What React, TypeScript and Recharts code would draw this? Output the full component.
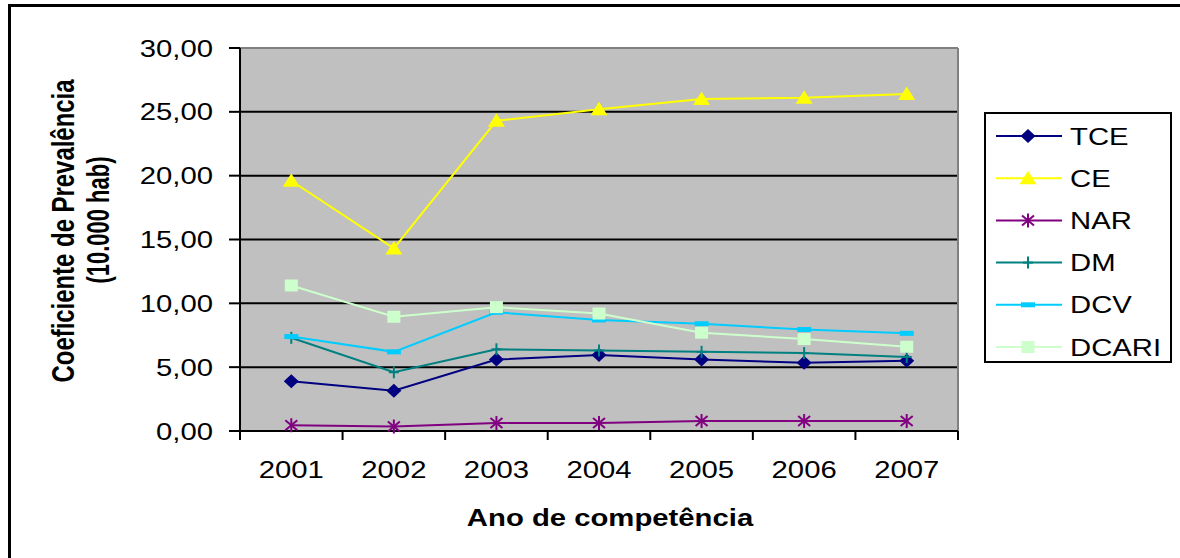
import React from "react";
import { LineChart, Line, XAxis, YAxis, CartesianGrid, ReferenceLine, Legend } from "recharts";

// values (coeficiente por 10.000 hab)
const years = [2001, 2002, 2003, 2004, 2005, 2006, 2007];
const yTicks = [0, 5, 10, 15, 20, 25, 30];
const tce = [3.9, 3.15, 5.6, 5.95, 5.6, 5.35, 5.5];
const ce = [19.6, 14.3, 24.3, 25.2, 26.0, 26.1, 26.4];
const nar = [0.45, 0.35, 0.62, 0.62, 0.78, 0.78, 0.78];
const dm = [7.3, 4.6, 6.4, 6.3, 6.2, 6.1, 5.8];
const dcv = [7.4, 6.2, 9.3, 8.7, 8.4, 7.95, 7.65];
const dcari = [11.4, 8.95, 9.7, 9.2, 7.7, 7.2, 6.6];

const FONT = '"Liberation Sans", Arial, sans-serif';
const W = 1180;
const H = 558;
const PLOT = { left: 240, top: 48, right: 958, bottom: 431 };
const BAND = (PLOT.right - PLOT.left) / years.length;
// the source picture is stretched sideways, text included
const SX = 1.22;

type Shape = "diamond" | "triangle" | "star" | "plus" | "dash" | "square";

const SERIES: { key: string; name: string; color: string; shape: Shape; values: number[] }[] = [
  { key: "tce", name: "TCE", color: "#000080", shape: "diamond", values: tce },
  { key: "ce", name: "CE", color: "#FFFF00", shape: "triangle", values: ce },
  { key: "nar", name: "NAR", color: "#800080", shape: "star", values: nar },
  { key: "dm", name: "DM", color: "#008080", shape: "plus", values: dm },
  { key: "dcv", name: "DCV", color: "#00CCFF", shape: "dash", values: dcv },
  { key: "dcari", name: "DCARI", color: "#CCFFCC", shape: "square", values: dcari },
];

const data = years.map((year, i) => {
  const row: Record<string, number> = { year };
  SERIES.forEach((s) => (row[s.key] = s.values[i]));
  return row;
});

function fmt(v: number) {
  return v.toFixed(2).replace(".", ",");
}

function Marker({ shape, cx, cy, color }: { shape: Shape; cx: number; cy: number; color: string }) {
  switch (shape) {
    case "diamond":
      return <polygon points={`${cx},${cy - 7} ${cx + 7.5},${cy} ${cx},${cy + 7} ${cx - 7.5},${cy}`} fill={color} />;
    case "triangle":
      return <polygon points={`${cx},${cy - 7.5} ${cx + 8.5},${cy + 6} ${cx - 8.5},${cy + 6}`} fill={color} />;
    case "star":
      return (
        <g stroke={color} strokeWidth={2}>
          <line x1={cx - 6} y1={cy - 5} x2={cx + 6} y2={cy + 5} />
          <line x1={cx - 6} y1={cy + 5} x2={cx + 6} y2={cy - 5} />
          <line x1={cx} y1={cy - 7} x2={cx} y2={cy + 7} />
        </g>
      );
    case "plus":
      return (
        <g stroke={color} strokeWidth={2}>
          <line x1={cx - 5} y1={cy} x2={cx + 5} y2={cy} />
          <line x1={cx} y1={cy - 6} x2={cx} y2={cy + 6} />
        </g>
      );
    case "dash":
      return <rect x={cx - 7} y={cy - 2.5} width={14} height={5} fill={color} />;
    default:
      return <rect x={cx - 6.5} y={cy - 6} width={13} height={12} fill={color} />;
  }
}

function makeDot(s: (typeof SERIES)[number]) {
  return (p: any) => (
    <g key={`${s.key}-${p.index}`}>
      <Marker shape={s.shape} cx={p.cx} cy={p.cy} color={s.color} />
    </g>
  );
}

function XTick({ x, y, payload }: any) {
  const last = payload.value === years[years.length - 1];
  return (
    <g>
      <line x1={x - BAND / 2} y1={y} x2={x - BAND / 2} y2={y + 9} stroke="#000" strokeWidth={2} />
      {last && <line x1={x + BAND / 2} y1={y} x2={x + BAND / 2} y2={y + 9} stroke="#000" strokeWidth={2} />}
      <text
        transform={`translate(${x},${y + 47}) scale(${SX},1)`}
        textAnchor="middle"
        fontSize={24}
        fontFamily={FONT}
        fill="#000"
      >
        {payload.value}
      </text>
    </g>
  );
}

function YTick({ x, y, payload }: any) {
  return (
    <text transform={`translate(${x},${y + 8.5}) scale(${SX},1)`} textAnchor="end" fontSize={24} fontFamily={FONT} fill="#000">
      {fmt(payload.value)}
    </text>
  );
}

// recharts sorts the payload by name, the reference keeps series order
function LegendBox() {
  return (
    <svg width={188} height={251} style={{ display: "block" }}>
      <rect x={1} y={1} width={186} height={249} fill="#fff" stroke="#000" strokeWidth={2} />
      {SERIES.map((s, i) => {
        const cy = 24 + i * 42.2;
        return (
          <g key={s.key}>
            <line x1={12} y1={cy} x2={78} y2={cy} stroke={s.color} strokeWidth={2} />
            <Marker shape={s.shape} cx={44} cy={cy} color={s.color} />
            <text
              transform={`translate(86,${cy + 8.5}) scale(${SX},1)`}
              fontSize={24}
              fontFamily={FONT}
              fill="#000"
            >
              {s.name}
            </text>
          </g>
        );
      })}
    </svg>
  );
}

export default function App() {
  return (
    <div style={{ position: "absolute", left: 0, top: 0, width: W, height: H, background: "#fff", overflow: "hidden" }}>
      <div
        style={{
          position: "absolute",
          left: 8,
          top: 4,
          width: W,
          height: H,
          borderTop: "3px solid #000",
          borderLeft: "3px solid #000",
        }}
      />
      <LineChart
        width={W}
        height={H}
        data={data}
        margin={{ top: PLOT.top, right: W - PLOT.right, bottom: 0, left: 0 }}
        style={{ position: "absolute", left: 0, top: 0 }}
      >
        <CartesianGrid
          fill="#C0C0C0"
          vertical={false}
          stroke="#000"
          strokeWidth={2}
          horizontalValues={[5, 10, 15, 20, 25]}
        />
        <ReferenceLine y={30} stroke="#808080" strokeWidth={2} />
        <ReferenceLine x={2007.5} stroke="#808080" strokeWidth={2} />
        <XAxis
          dataKey="year"
          type="number"
          domain={[2000.5, 2007.5]}
          allowDataOverflow
          ticks={years}
          interval={0}
          height={H - PLOT.bottom}
          tickSize={0}
          tickMargin={0}
          tickLine={false}
          axisLine={{ stroke: "#000", strokeWidth: 2 }}
          tick={<XTick />}
        />
        <YAxis
          type="number"
          domain={[0, 30]}
          ticks={yTicks}
          interval={0}
          width={PLOT.left}
          tickSize={11}
          tickMargin={16}
          tickLine={{ stroke: "#000", strokeWidth: 2 }}
          axisLine={{ stroke: "#000", strokeWidth: 2 }}
          tick={<YTick />}
        />
        {SERIES.map((s) => (
          <Line
            key={s.key}
            type="linear"
            dataKey={s.key}
            name={s.name}
            stroke={s.color}
            strokeWidth={2}
            dot={makeDot(s)}
            activeDot={false}
            isAnimationActive={false}
          />
        ))}
        <Legend
          layout="vertical"
          align="center"
          verticalAlign="middle"
          wrapperStyle={{ left: 984, top: 112, width: 188, height: 251 }}
          content={<LegendBox />}
        />
      </LineChart>
      <svg width={W} height={H} style={{ position: "absolute", left: 0, top: 0, pointerEvents: "none" }}>
        <g fontFamily={FONT} fontWeight="bold" fill="#000">
          <text
            transform={`translate(74,231) scale(${SX},1) rotate(-90)`}
            textAnchor="middle"
            fontSize={26}
            textLength={303}
            lengthAdjust="spacingAndGlyphs"
          >
            Coeficiente de Prevalência
          </text>
          <text
            transform={`translate(109,220) scale(${SX},1) rotate(-90)`}
            textAnchor="middle"
            fontSize={26}
            textLength={127}
            lengthAdjust="spacingAndGlyphs"
          >
            (10.000 hab)
          </text>
          <text transform={`translate(610,526) scale(${SX},1)`} textAnchor="middle" fontSize={24}>
            Ano de competência
          </text>
        </g>
      </svg>
    </div>
  );
}
